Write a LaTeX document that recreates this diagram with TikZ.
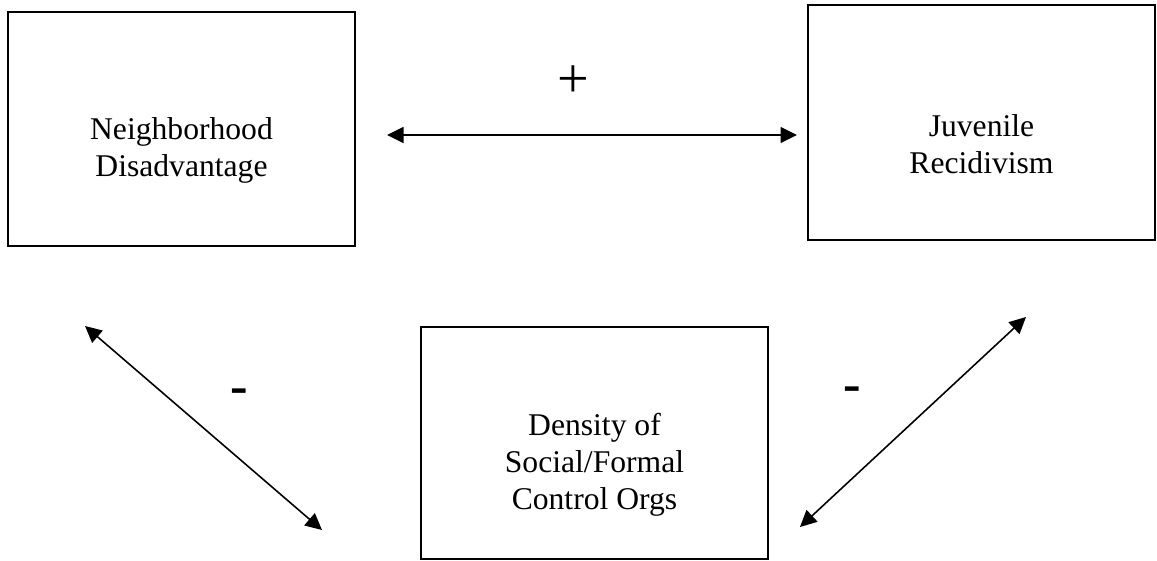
\documentclass[tikz,border=0pt]{standalone}
\usepackage{fontspec}
\setmainfont{Liberation Serif}
\usetikzlibrary{positioning,calc,arrows.meta}

\begin{document}
\begin{tikzpicture}[x=0.02cm,y=-0.02cm,
        box/.style={draw,line width=1.1pt,minimum width=6.94cm,inner sep=0pt},
        boxtext/.style={align=center,font=\fontsize{18}{21}\selectfont},
        link/.style={{Triangle[length=0.33cm,width=0.32cm]}-{Triangle[length=0.33cm,width=0.32cm]},line width=0.9pt},
        plussign/.style={font=\fontsize{32}{36}\selectfont},
        minussign/.style={font=\fontsize{30}{36}\selectfont\bfseries}]
            \useasboundingbox (0,0) rectangle (1157,561);

            % the three boxes
            \node[box,minimum height=4.68cm] (nbhd) at (181.5,129) {};
            \node[box,minimum height=4.70cm] (recid) at (981.5,122.5) {};
            \node[box,minimum height=4.64cm] (orgs) at (594.5,443) {};

            \node[boxtext] (nbhdtxt) at ($(nbhd.center)+(0,21)$) {Neighborhood\\Disadvantage};
            \node[boxtext] (recidtxt) at ($(recid.center)+(0,22)$) {Juvenile\\Recidivism};
            \node[boxtext] (orgstxt) at ($(orgs.center)+(0,22)$) {Density of\\Social/Formal\\Control Orgs};

            % arrow ends
            \coordinate (topl) at (387,135);
            \coordinate (topr) at (797,135);
            \coordinate (leftup) at (85,326);
            \coordinate (leftdn) at (322,530);
            \coordinate (rightdn) at (800,527);
            \coordinate (rightup) at (1026,317);

            \draw[link] (topl) -- (topr);
            \draw[link] (leftup) -- (leftdn);
            \draw[link] (rightdn) -- (rightup);

            % signs
            \node[plussign] (plus) at (573,82) {+};
            \node[minussign] (minusl) at (239,396) {-};
            \node[minussign] (minusr) at (852,394) {-};
\end{tikzpicture}
\end{document}
